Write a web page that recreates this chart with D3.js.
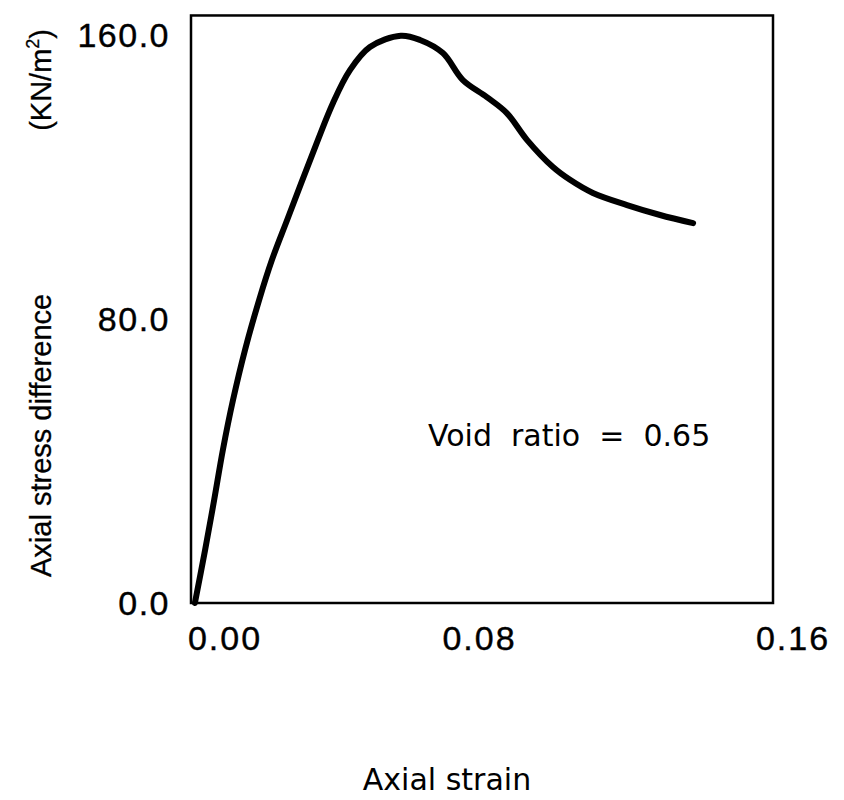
<!DOCTYPE html>
<html>
<head>
<meta charset="utf-8">
<script src="https://cdn.jsdelivr.net/npm/d3@7"></script>
<style>
  body { margin: 0; background: #fff; }
  svg text { fill: #000; }
</style>
</head>
<body>
<svg id="chart" width="844" height="800"></svg>
<script>
// curve: axial strain vs axial stress difference
const strain = [0.0008, 0.0036, 0.0061, 0.0085, 0.0113, 0.0146, 0.0185, 0.0220, 0.0262, 0.0333, 0.0388, 0.0435, 0.0490, 0.0575,
                0.0628, 0.0691, 0.0746, 0.0812, 0.0867, 0.0923, 0.0994, 0.1041, 0.1104, 0.1198, 0.1289, 0.1380];
const stress = [0.0, 14.9, 29.0, 43.1, 57.2, 71.3, 85.4, 96.6, 107.9, 126.8, 140.8, 150.1, 156.6, 159.8,
                158.6, 154.9, 147.3, 142.5, 138.0, 130.4, 122.8, 119.2, 115.5, 112.1, 109.3, 107.0];
const xTicks = [0.00, 0.08, 0.16];
const yTicks = [0.0, 80.0, 160.0];
const xTickShift = [33, -3, 20];   // labels in the original sit off their ticks

const tickFont = "'Liberation Sans', Arial, sans-serif";
const titleFont = "'DejaVu Sans', sans-serif";

const svg = d3.select("#chart");
const x = d3.scaleLinear().domain([0, 0.16]).range([192, 773]);
const y = d3.scaleLinear().domain([0, 160]).range([603, 35]);
const yTop = y(165.5);

// frame
svg.append("rect")
    .attr("x", x(0) - 1)
    .attr("y", yTop)
    .attr("width", x(0.16) - x(0) + 1)
    .attr("height", y(0) - yTop)
    .attr("fill", "none")
    .attr("stroke", "#000")
    .attr("stroke-width", 2.5);

// curve
const pts = strain.map((s, i) => [s, stress[i]]);
svg.append("path")
    .datum(pts)
    .attr("fill", "none")
    .attr("stroke", "#000")
    .attr("stroke-width", 6)
    .attr("stroke-linejoin", "round")
    .attr("stroke-linecap", "round")
    .attr("d", d3.line().x(d => x(d[0])).y(d => y(d[1])).curve(d3.curveCatmullRom));

// tick labels
svg.selectAll(".xt").data(xTicks).enter().append("text")
    .attr("class", "xt")
    .attr("x", (d, i) => x(d) + xTickShift[i])
    .attr("y", 650)
    .attr("text-anchor", "middle")
    .style("font-family", tickFont)
    .style("font-size", "34px")
    .style("letter-spacing", "2px")
    .style("stroke", "#000")
    .style("stroke-width", "0.4px")
    .text(d => d.toFixed(2));

svg.selectAll(".yt").data(yTicks).enter().append("text")
    .attr("class", "yt")
    .attr("x", 170)
    .attr("y", d => y(d) + 12)
    .attr("text-anchor", "end")
    .style("font-family", tickFont)
    .style("font-size", "34px")
    .style("letter-spacing", "1.5px")
    .style("stroke", "#000")
    .style("stroke-width", "0.4px")
    .text(d => d.toFixed(1));

// axis titles
svg.append("text")
    .attr("x", 447)
    .attr("y", 790)
    .attr("text-anchor", "middle")
    .style("font-family", titleFont)
    .style("font-size", "30px")
    .text("Axial strain");

const yt = svg.append("g").attr("transform", "translate(51,577) rotate(-90)");
yt.append("text")
    .attr("x", 0).attr("y", 0)
    .style("font-family", tickFont)
    .style("font-size", "29px")
    .style("stroke", "#000")
    .style("stroke-width", "0.3px")
    .text("Axial stress difference");
const unit = yt.append("text")
    .attr("x", 548).attr("y", 0)
    .attr("text-anchor", "end")
    .style("font-family", tickFont)
    .style("font-size", "29px")
    .style("stroke", "#000")
    .style("stroke-width", "0.3px");
unit.append("tspan").text("(KN/m");
unit.append("tspan").attr("dy", -12).style("font-size", "18px").text("2");
unit.append("tspan").attr("dy", 12).text(")");

// annotation
svg.append("text")
    .attr("x", 428)
    .attr("y", 446)
    .style("font-family", titleFont)
    .style("font-size", "30px")
    .style("white-space", "pre")
    .text("Void  ratio  =  0.65");
</script>
</body>
</html>
